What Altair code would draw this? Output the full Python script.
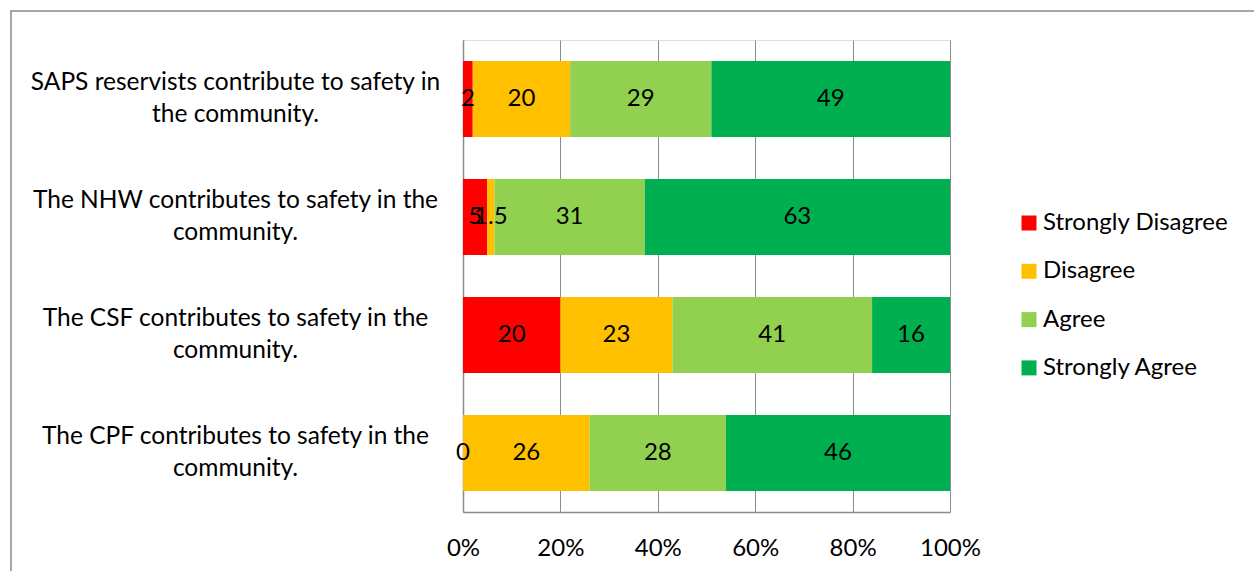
import altair as alt
import pandas as pd

# Survey statements (y categories), response levels and percentages per level
questions = [
    "SAPS reservists contribute to safety in|the community.",
    "The NHW contributes to safety in the|community.",
    "The CSF contributes to safety in the|community.",
    "The CPF contributes to safety in the|community.",
]
levels = ["Strongly Disagree", "Disagree", "Agree", "Strongly Agree"]
colors = ["#FF0000", "#FFC000", "#92D050", "#00B050"]

strongly_disagree = [2, 5, 20, 0]
disagree = [20, 1.5, 23, 26]
agree = [29, 31, 41, 28]
strongly_agree = [49, 63, 16, 46]

series = [strongly_disagree, disagree, agree, strongly_agree]
rows = []
for li, (level, vals) in enumerate(zip(levels, series)):
    for q, v in zip(questions, vals):
        rows.append({"question": q, "level": level, "order": li, "value": v})
df = pd.DataFrame(rows)

FONT = "Lato"
FS = 24
GRID = "#8C8C8C"

base = alt.Chart(df).transform_stack(
    stack="value",
    groupby=["question"],
    as_=["x0", "x1"],
    offset="normalize",
    sort=[alt.SortField("order")],
).transform_calculate(mid="(datum.x0 + datum.x1) / 2")

y_enc = alt.Y(
    "question:N",
    sort=questions,
    title=None,
    scale=alt.Scale(paddingInner=0.356, paddingOuter=0.178),
    axis=alt.Axis(
        labelExpr="split(datum.label, '|')",
        labelAlign="center",
        labelBaseline="middle",
        labelPadding=228,
        labelOffset=-16,
        labelFont=FONT,
        labelFontSize=24.5,
        labelLineHeight=32,
        labelColor="#000000",
        labelLimit=600,
        ticks=False,
        domain=True,
        domainColor=GRID,
        domainWidth=1.5,
        grid=False,
    ),
)

bars = base.mark_bar().encode(
    x=alt.X(
        "x0:Q",
        title=None,
        scale=alt.Scale(domain=[0, 1], nice=False),
        axis=alt.Axis(
            values=[0, 0.2, 0.4, 0.6, 0.8, 1.0],
            format="%",
            grid=True,
            gridColor=GRID,
            gridWidth=1,
            ticks=False,
            domain=True,
            domainColor=GRID,
            domainWidth=1.5,
            labelFont=FONT,
            labelFontSize=FS,
            labelColor="#000000",
            labelPadding=24,
            labelBaseline="top",
            labelFlush=False,
            labelOverlap=False,
        ),
    ),
    x2="x1:Q",
    y=y_enc,
    color=alt.Color(
        "level:N",
        sort=levels,
        scale=alt.Scale(domain=levels, range=colors),
        legend=alt.Legend(
            title=None,
            orient="none",
            legendX=554,
            legendY=171,
            symbolType="square",
            symbolSize=225,
            symbolStrokeWidth=0,
            labelFont=FONT,
            labelFontSize=FS,
            labelColor="#000000",
            labelOffset=2,
            labelLimit=400,
            rowPadding=24.3,
            padding=0,
        ),
    ),
)

labels = base.mark_text(
    font=FONT, fontSize=FS, color="#000000", align="center", baseline="middle"
).encode(
    x="mid:Q",
    y=alt.Y("question:N", sort=questions),
    text=alt.Text("value:Q"),
)

# Outer chart frame
frame = alt.Chart(pd.DataFrame({"k": [0]})).mark_rect(
    fill=None, stroke="#8A8A8A", strokeWidth=1.5
).encode(
    x=alt.value(-452), x2=alt.value(900), y=alt.value(-29), y2=alt.value(600)
)

chart = alt.layer(frame, bars, labels).properties(
    width=487,
    height=472,
    autosize=alt.AutoSizeParams(type="none"),
    padding={"left": 463, "top": 40, "right": 304, "bottom": 59},
).configure_view(stroke=None).configure(background="#FFFFFF")

chart.save("out.html", embed_options={"renderer": "svg", "actions": False})
